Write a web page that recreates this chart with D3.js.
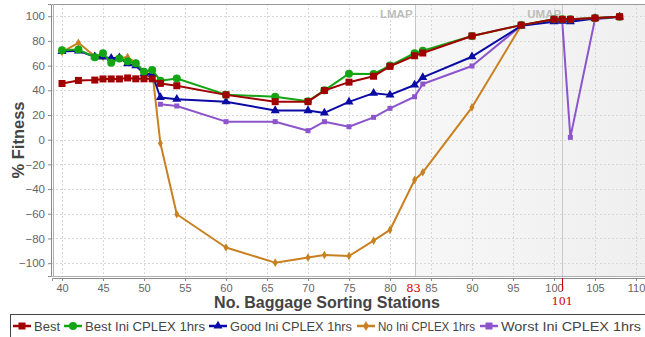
<!DOCTYPE html>
<html>
<head>
<meta charset="utf-8">
<script src="https://cdn.jsdelivr.net/npm/d3@7"></script>
<style>
  html, body { margin: 0; padding: 0; background: #fff; }
  svg { display: block; }
</style>
</head>
<body>
<svg id="chart" width="645" height="337"></svg>
<script>
// Number of baggage sorting stations (shared x values)
const stations = [40,42,44,45,46,47,48,49,50,51,52,54,60,66,70,72,75,78,80,83,84,90,96,100,101,102,105,108];

// % fitness per configuration
const best      = [45.5,48,48.3,49.2,49.2,49.2,50,49.3,49.3,49.3,45.6,43.7,36.3,30.8,30.8,39.8,46.6,51.4,59.4,68,70.2,84,92.8,97.5,97.5,97.5,98.5,99.6];
const bestIni   = [72.5,73,66.8,70,62.3,65.8,63.5,62,55,56.5,47.8,49.6,36.5,34.8,31.2,40,53.5,53.2,60,70,72,84,92.8,97.5,97.5,97.5,98.5,99.6];
const goodIni   = [71.5,72,67.2,67,66,66.5,61.5,60,53.5,53,34.2,32.8,30.8,23.6,23.6,21.7,30.6,37.7,36.3,44.3,50.5,67.2,92.2,95.6,96,95.6,98.2,99.5];
const noIni     = [71,78.5,67.5,67,65,66,67,62,55,55.5,-2.9,-60.4,-87.3,-99.6,-95.4,-93.4,-94.2,-81.8,-73.1,-32.6,-26.4,26.2,92.5,97.3,97.3,97.3,98.3,99.5];
const worstIni  = [null,null,null,null,null,null,null,null,null,null,28.7,27.3,14.6,14.6,7.3,14.6,10.5,18.1,25.4,34.8,45.1,59.7,92.3,96.5,96.5,1.9,97.5,99.4];

const seriesNames = ["Best", "Best Ini CPLEX 1hrs", "Good Ini CPLEX 1hrs", "No Ini CPLEX 1hrs", "Worst Ini CPLEX 1hrs"];
const seriesValues = [best, bestIni, goodIni, noIni, worstIni];

// Marked bounds on the x axis
const lmap = 83, umap = 101;
const xTicks = d3.range(40, 111, 5);
const yTicks = d3.range(-100, 101, 20);

const styles = [
  { color: "#a00000", shape: "square",   size: 7 },
  { color: "#14a514", shape: "circle",   size: 8 },
  { color: "#0a0aa5", shape: "triangle", size: 8 },
  { color: "#c98020", shape: "diamond",  size: 6 },
  { color: "#8c55cc", shape: "square",   size: 5 }
];

const svg = d3.select("#chart");
const plot = { left: 52, right: 645, top: 4, bottom: 276 };

const x = d3.scaleLinear().domain([38.78, 111.1]).range([plot.left, plot.right]);
const y = d3.scaleLinear().domain([-110.4, 109.9]).range([plot.bottom, plot.top]);

const defs = svg.append("defs");
const grad = defs.append("linearGradient").attr("id", "band").attr("x1", "0").attr("x2", "1").attr("y1", "0").attr("y2", "0");
grad.append("stop").attr("offset", "0").attr("stop-color", "#f7f7f7");
grad.append("stop").attr("offset", "1").attr("stop-color", "#efefef");
defs.append("clipPath").attr("id", "plotClip").append("rect")
  .attr("x", plot.left).attr("y", plot.top)
  .attr("width", plot.right - plot.left).attr("height", plot.bottom - plot.top);

// Shaded band from LMAP onwards
svg.append("rect")
  .attr("x", x(lmap)).attr("y", plot.top)
  .attr("width", plot.right - x(lmap)).attr("height", plot.bottom - plot.top)
  .attr("fill", "url(#band)");

// Grid
const grid = svg.append("g").attr("stroke", "#d8d8d8").attr("stroke-dasharray", "2,2").attr("stroke-width", 1);
grid.selectAll("line.gx").data(xTicks).join("line")
  .attr("x1", d => Math.round(x(d)) + 0.5).attr("x2", d => Math.round(x(d)) + 0.5)
  .attr("y1", plot.top).attr("y2", plot.bottom);
grid.selectAll("line.gy").data(yTicks).join("line")
  .attr("y1", d => Math.round(y(d)) + 0.5).attr("y2", d => Math.round(y(d)) + 0.5)
  .attr("x1", plot.left).attr("x2", plot.right);

// Marker lines
[lmap, umap].forEach(v => {
  svg.append("line")
    .attr("x1", Math.round(x(v)) + 0.5).attr("x2", Math.round(x(v)) + 0.5)
    .attr("y1", plot.top).attr("y2", plot.bottom)
    .attr("stroke", "#c8c8c8").attr("stroke-width", 1);
});
const fontAxis = "Liberation Sans, Arial, sans-serif";
const fontMark = "DejaVu Serif, Liberation Serif, serif";
svg.append("text").attr("x", x(lmap) - 2).attr("y", 18).attr("text-anchor", "end")
  .attr("font-family", fontAxis).attr("font-weight", "bold")
  .attr("font-size", 11.5).attr("fill", "#bdbdbd").text("LMAP");
svg.append("text").attr("x", x(umap) - 1).attr("y", 18).attr("text-anchor", "end")
  .attr("font-family", fontAxis).attr("font-weight", "bold")
  .attr("font-size", 11.5).attr("fill", "#bdbdbd").text("UMAP");

// Plot frame
svg.append("line").attr("x1", plot.left).attr("x2", plot.right).attr("y1", plot.top + 0.5).attr("y2", plot.top + 0.5)
  .attr("stroke", "#9a9a9a");

// Axes
const xAxis = svg.append("g").attr("transform", `translate(0,${plot.bottom + 2})`)
  .call(d3.axisBottom(x).tickValues(xTicks).tickSize(3).tickPadding(3));
xAxis.select(".domain").attr("stroke", "#8a8a8a");
xAxis.selectAll(".tick line").attr("stroke", "#8a8a8a");
xAxis.selectAll("text").attr("font-family", fontAxis).attr("font-size", 11).attr("fill", "#666");
svg.append("line").attr("x1", plot.left).attr("x2", plot.right).attr("y1", plot.bottom + 0.5).attr("y2", plot.bottom + 0.5)
  .attr("stroke", "#b0b0b0");

const yAxis = svg.append("g").attr("transform", `translate(${plot.left - 1},0)`)
  .call(d3.axisLeft(y).tickValues(yTicks).tickSize(3).tickPadding(3));
yAxis.select(".domain").attr("stroke", "#8a8a8a");
yAxis.selectAll(".tick line").attr("stroke", "#8a8a8a");
yAxis.selectAll("text").attr("font-family", fontAxis).attr("font-size", 11.5).attr("fill", "#666");
svg.append("line").attr("x1", plot.left + 1.5).attr("x2", plot.left + 1.5).attr("y1", plot.top).attr("y2", plot.bottom)
  .attr("stroke", "#b0b0b0");

// Highlighted bounds under the axis
svg.append("text").attr("x", x(lmap) - 1).attr("y", plot.bottom + 16).attr("text-anchor", "middle")
  .attr("font-family", fontMark).attr("font-size", 11.5).attr("fill", "#cc0000").text(String(lmap));
svg.append("line").attr("x1", Math.round(x(umap)) + 0.5).attr("x2", Math.round(x(umap)) + 0.5)
  .attr("y1", plot.bottom + 2).attr("y2", plot.bottom + 15).attr("stroke", "#cc0000");
svg.append("text").attr("x", x(umap)).attr("y", plot.bottom + 29).attr("text-anchor", "middle")
  .attr("font-family", fontMark).attr("font-size", 11).attr("fill", "#cc0000").text(String(umap));

// Axis titles
svg.append("text").attr("x", 327).attr("y", 308).attr("text-anchor", "middle")
  .attr("font-family", fontAxis).attr("font-weight", "bold").attr("font-size", 16).attr("fill", "#444")
  .text("No. Baggage Sorting Stations");
svg.append("text").attr("transform", "translate(24,140) rotate(-90)").attr("text-anchor", "middle")
  .attr("font-family", fontAxis).attr("font-weight", "bold").attr("font-size", 16.5).attr("fill", "#444")
  .text("% Fitness");

// Marker symbol helper
function symbolPath(shape, size) {
  const area = size * size;
  const type = { square: d3.symbolSquare, circle: d3.symbolCircle, triangle: d3.symbolTriangle, diamond: d3.symbolDiamond }[shape];
  const a = shape === "circle" ? Math.PI * area / 4 : shape === "triangle" ? area * 0.55 : shape === "diamond" ? area * 0.6 : area;
  return d3.symbol().type(type).size(a)();
}

// Series (last series drawn first so "Best" sits on top)
const gSeries = svg.append("g").attr("clip-path", "url(#plotClip)");
const line = d3.line().defined(d => d.v !== null).x(d => x(d.s)).y(d => y(d.v));
for (let i = seriesValues.length - 1; i >= 0; i--) {
  const st = styles[i];
  const pts = stations.map((s, j) => ({ s, v: seriesValues[i][j] }));
  const g = gSeries.append("g");
  g.append("path").datum(pts).attr("d", line)
    .attr("fill", "none").attr("stroke", st.color).attr("stroke-width", 2).attr("stroke-linejoin", "round");
  g.selectAll("path.m").data(pts.filter(d => d.v !== null)).join("path").attr("class", "m")
    .attr("transform", d => `translate(${x(d.s)},${y(d.v)})`)
    .attr("d", symbolPath(st.shape, st.size)).attr("fill", st.color);
}

// Legend
const legend = svg.append("g");
legend.append("rect").attr("x", 10.5).attr("y", 314.5).attr("width", 640).attr("height", 25)
  .attr("fill", "#fff").attr("stroke", "#444");
const legendX = [13, 64, 209, 357, 480];
const legendTextW = [26, 120, 122, 97, 140];
seriesNames.forEach((name, i) => {
  const st = styles[i];
  const g = legend.append("g").attr("transform", `translate(${legendX[i]},326)`);
  g.append("line").attr("x1", 0).attr("x2", 18).attr("y1", 0).attr("y2", 0)
    .attr("stroke", st.color).attr("stroke-width", 2.5);
  g.append("path").attr("transform", "translate(9,0)")
    .attr("d", symbolPath(st.shape, Math.max(st.size, 7))).attr("fill", st.color);
  g.append("text").attr("x", 21).attr("y", 4.5)
    .attr("font-family", fontAxis).attr("font-size", 12.5).attr("fill", "#444")
    .attr("textLength", legendTextW[i]).attr("lengthAdjust", "spacingAndGlyphs")
    .text(name);
});
</script>
</body>
</html>
